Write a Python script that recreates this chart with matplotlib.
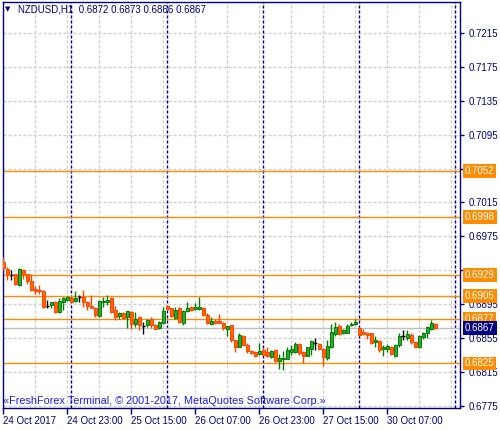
import matplotlib.pyplot as plt

plt.rcParams['font.family'] = ['Liberation Sans', 'DejaVu Sans']

symbol = "NZDUSD,H1"

# hourly candles, 24 Oct 2017 07:00 .. 30 Oct 2017 19:00
opens = [0.6945, 0.6937, 0.6929, 0.6930, 0.6918, 0.6935, 0.6930, 0.6922, 0.6913, 0.6912,
         0.6911, 0.6893, 0.6894, 0.6898, 0.6886, 0.6898, 0.6900, 0.6902, 0.6899, 0.6903,
         0.6904, 0.6898, 0.6893, 0.6891, 0.6881, 0.6897, 0.6898, 0.6902, 0.6888, 0.6881,
         0.6885, 0.6880, 0.6886, 0.6872, 0.6880, 0.6869, 0.6870, 0.6878, 0.6870, 0.6867,
         0.6873, 0.6893, 0.6890, 0.6879, 0.6890, 0.6873, 0.6887, 0.6892, 0.6889, 0.6889,
         0.6891, 0.6882, 0.6872, 0.6875, 0.6875, 0.6873, 0.6866, 0.6870, 0.6853, 0.6845,
         0.6857, 0.6847, 0.6840, 0.6839, 0.6836, 0.6841, 0.6838, 0.6833, 0.6841, 0.6828,
         0.6830, 0.6830, 0.6839, 0.6839, 0.6848, 0.6839, 0.6834, 0.6842, 0.6849, 0.6848,
         0.6842, 0.6831, 0.6844, 0.6860, 0.6869, 0.6861, 0.6861, 0.6870, 0.6871, 0.6867,
         0.6862, 0.6861, 0.6861, 0.6850, 0.6852, 0.6842, 0.6842, 0.6845, 0.6834, 0.6847,
         0.6857, 0.6855, 0.6859, 0.6850, 0.6844, 0.6856, 0.6861, 0.6866, 0.6872]
highs = [0.6951, 0.6939, 0.6935, 0.6930, 0.6938, 0.6937, 0.6931, 0.6930, 0.6917, 0.6918,
         0.6912, 0.6900, 0.6898, 0.6899, 0.6902, 0.6904, 0.6905, 0.6903, 0.6911, 0.6906,
         0.6912, 0.6899, 0.6906, 0.6892, 0.6900, 0.6904, 0.6906, 0.6903, 0.6893, 0.6886,
         0.6886, 0.6887, 0.6887, 0.6886, 0.6881, 0.6874, 0.6877, 0.6880, 0.6872, 0.6875,
         0.6892, 0.6894, 0.6891, 0.6892, 0.6892, 0.6888, 0.6897, 0.6893, 0.6896, 0.6904,
         0.6892, 0.6884, 0.6880, 0.6877, 0.6883, 0.6874, 0.6869, 0.6870, 0.6853, 0.6861,
         0.6859, 0.6849, 0.6841, 0.6840, 0.6849, 0.6843, 0.6845, 0.6841, 0.6842, 0.6836,
         0.6840, 0.6845, 0.6847, 0.6850, 0.6849, 0.6840, 0.6845, 0.6853, 0.6855, 0.6849,
         0.6843, 0.6853, 0.6872, 0.6874, 0.6872, 0.6866, 0.6872, 0.6874, 0.6877, 0.6868,
         0.6866, 0.6862, 0.6861, 0.6857, 0.6853, 0.6847, 0.6848, 0.6846, 0.6848, 0.6861,
         0.6864, 0.6865, 0.6861, 0.6851, 0.6859, 0.6862, 0.6869, 0.6876, 0.6873]
lows = [0.6935, 0.6924, 0.6924, 0.6918, 0.6917, 0.6925, 0.6919, 0.6910, 0.6907, 0.6907,
        0.6891, 0.6891, 0.6891, 0.6885, 0.6885, 0.6888, 0.6899, 0.6897, 0.6898, 0.6898,
        0.6892, 0.6888, 0.6891, 0.6880, 0.6880, 0.6892, 0.6894, 0.6885, 0.6876, 0.6878,
        0.6878, 0.6867, 0.6866, 0.6868, 0.6864, 0.6860, 0.6868, 0.6867, 0.6866, 0.6866,
        0.6872, 0.6888, 0.6880, 0.6877, 0.6873, 0.6870, 0.6886, 0.6887, 0.6888, 0.6888,
        0.6881, 0.6872, 0.6870, 0.6872, 0.6873, 0.6864, 0.6857, 0.6850, 0.6839, 0.6844,
        0.6846, 0.6837, 0.6836, 0.6833, 0.6835, 0.6835, 0.6833, 0.6831, 0.6827, 0.6819,
        0.6817, 0.6830, 0.6835, 0.6837, 0.6835, 0.6826, 0.6834, 0.6835, 0.6841, 0.6841,
        0.6822, 0.6829, 0.6843, 0.6857, 0.6859, 0.6860, 0.6861, 0.6869, 0.6870, 0.6857,
        0.6859, 0.6854, 0.6848, 0.6845, 0.6838, 0.6834, 0.6839, 0.6835, 0.6833, 0.6845,
        0.6853, 0.6853, 0.6848, 0.6844, 0.6843, 0.6854, 0.6855, 0.6865, 0.6866]
closes = [0.6938, 0.6930, 0.6929, 0.6919, 0.6937, 0.6930, 0.6922, 0.6912, 0.6911, 0.6911,
          0.6892, 0.6893, 0.6897, 0.6886, 0.6899, 0.6902, 0.6903, 0.6898, 0.6902, 0.6903,
          0.6898, 0.6893, 0.6891, 0.6882, 0.6899, 0.6899, 0.6900, 0.6886, 0.6880, 0.6884,
          0.6879, 0.6887, 0.6872, 0.6878, 0.6870, 0.6869, 0.6876, 0.6870, 0.6866, 0.6874,
          0.6887, 0.6889, 0.6881, 0.6888, 0.6874, 0.6887, 0.6891, 0.6888, 0.6892, 0.6892,
          0.6882, 0.6873, 0.6875, 0.6873, 0.6873, 0.6867, 0.6869, 0.6853, 0.6844, 0.6859,
          0.6847, 0.6840, 0.6837, 0.6834, 0.6840, 0.6835, 0.6834, 0.6840, 0.6828, 0.6831,
          0.6832, 0.6841, 0.6842, 0.6848, 0.6837, 0.6834, 0.6844, 0.6851, 0.6849, 0.6842,
          0.6833, 0.6846, 0.6862, 0.6868, 0.6860, 0.6864, 0.6869, 0.6872, 0.6874, 0.6859,
          0.6860, 0.6859, 0.6849, 0.6853, 0.6841, 0.6845, 0.6846, 0.6836, 0.6847, 0.6857,
          0.6857, 0.6860, 0.6850, 0.6845, 0.6857, 0.6861, 0.6868, 0.6873, 0.6867]

levels = [0.7052, 0.6998, 0.6929, 0.6905, 0.6877, 0.6825]
last_price = closes[-1]

price_ticks = [0.7215, 0.7175, 0.7135, 0.7095, 0.7055, 0.7015, 0.6975,
               0.6935, 0.6895, 0.6855, 0.6815, 0.6775]
hidden_ticks = [0.7055, 0.6935]  # covered by the level boxes
time_labels = ["24 Oct 2017", "24 Oct 23:00", "25 Oct 15:00", "26 Oct 07:00",
               "26 Oct 23:00", "27 Oct 15:00", "30 Oct 07:00"]
time_label_bars = [0, 16, 32, 48, 64, 80, 96]
day_breaks = [17, 41, 65, 89, 113]

NAVY = "#000080"
ORANGE = "#FF8C00"
GRID = "#D0D0D0"

fig = plt.figure(figsize=(5, 4.3), dpi=100)
ax = fig.add_axes([0.006, 0.0512, 0.914, 0.9442])
ax.set_xlim(-0.1, 114.2)
ax.set_ylim(0.67725, 0.72515)

# grid + day separators
for t in price_ticks:
    ax.axhline(t, color=GRID, lw=1, ls=(0, (2.2, 1.4)), zorder=0)
for b in range(8, 114, 8):
    ax.axvline(b, color=GRID, lw=1, ls=(0, (2.2, 1.4)), zorder=0)
for b in day_breaks:
    ax.axvline(b, color=NAVY, lw=1, ls=(0, (2.2, 1.4)), zorder=1)

# levels
for lvl in levels:
    ax.axhline(lvl, color=ORANGE, lw=1, zorder=2)
ax.axhline(last_price, color="#C0C0C0", lw=1, zorder=1.5)

# candles
idx = range(len(opens))
up = [i for i in idx if closes[i] > opens[i]]
down = [i for i in idx if closes[i] < opens[i]]
flat = [i for i in idx if closes[i] == opens[i]]

ax.vlines(up, [lows[i] for i in up], [highs[i] for i in up], color="#008000", lw=1, zorder=3)
ax.bar(up, [closes[i] - opens[i] for i in up], bottom=[opens[i] for i in up],
       width=0.7, color="#32A832", edgecolor="#008000", linewidth=0.7, zorder=4)
ax.vlines(down, [lows[i] for i in down], [highs[i] for i in down], color="#FF4500", lw=1, zorder=3)
ax.bar(down, [closes[i] - opens[i] for i in down], bottom=[opens[i] for i in down],
       width=0.7, color="#FF6A00", edgecolor="#FF4500", linewidth=0.7, zorder=4)
ax.vlines(flat, [lows[i] for i in flat], [highs[i] for i in flat], color="black", lw=1, zorder=3)
ax.hlines([closes[i] for i in flat], [i - 0.45 for i in flat], [i + 0.45 for i in flat],
          color="black", lw=1, zorder=4)

# axes styling
for s in ax.spines.values():
    s.set_color(NAVY)
    s.set_linewidth(1)
ax.yaxis.tick_right()
ax.set_yticks(price_ticks)
ax.set_yticklabels(["" if t in hidden_ticks else f"{t:.4f}" for t in price_ticks])
ax.tick_params(axis="y", length=3, width=1, colors=NAVY, labelsize=7, pad=3)
ax.set_xticks(time_label_bars)
ax.set_xticklabels(time_labels, ha="left")
ax.tick_params(axis="x", length=4, width=1, colors=NAVY, labelsize=7, pad=2)

# price boxes on the right
for lvl in levels:
    ax.annotate(f"{lvl:.4f}", xy=(1, lvl), xycoords=("axes fraction", "data"),
                xytext=(3.5, 0), textcoords="offset points", ha="left", va="center",
                fontsize=7, color="white", annotation_clip=False, zorder=6,
                bbox=dict(boxstyle="square,pad=0.2", fc=ORANGE, ec="none"))
ax.annotate(f"{last_price:.4f}", xy=(1, last_price), xycoords=("axes fraction", "data"),
            xytext=(3.5, 0), textcoords="offset points", ha="left", va="center",
            fontsize=7, color="white", annotation_clip=False, zorder=6,
            bbox=dict(boxstyle="square,pad=0.2", fc=NAVY, ec="none"))

# header and copyright
fig.text(5 / 500, 1 - 9 / 430, "\u25bc", fontsize=5, color=NAVY, va="center",
         family=["DejaVu Sans"])
fig.text(18 / 500, 1 - 9 / 430,
         f"{symbol}  {opens[-1]:.4f} {highs[-1]:.4f} {lows[-1]:.4f} {closes[-1]:.4f}",
         fontsize=7, color=NAVY, va="center")
fig.text(3 / 500, 1 - 401.5 / 430,
         "\u00abFreshForex Terminal, \u00a9 2001-2017, MetaQuotes Software Corp.\u00bb",
         fontsize=7.8, color="#1E1EE6", va="center")

fig.savefig("out.png", dpi=100)
